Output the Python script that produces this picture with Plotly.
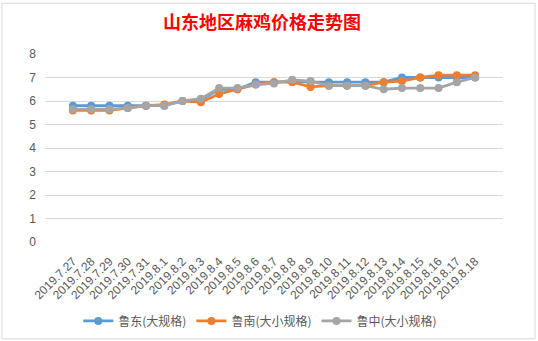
import plotly.graph_objects as go

dates = ["2019.7.27", "2019.7.28", "2019.7.29", "2019.7.30", "2019.7.31",
         "2019.8.1", "2019.8.2", "2019.8.3", "2019.8.4", "2019.8.5", "2019.8.6",
         "2019.8.7", "2019.8.8", "2019.8.9", "2019.8.10", "2019.8.11", "2019.8.12",
         "2019.8.13", "2019.8.14", "2019.8.15", "2019.8.16", "2019.8.17", "2019.8.18"]

ludong = [5.8, 5.8, 5.8, 5.8, 5.8, 5.8, 6.0, 6.05, 6.5, 6.5, 6.8,
          6.8, 6.85, 6.8, 6.8, 6.8, 6.8, 6.8, 7.0, 7.0, 7.0, 7.0, 7.0]
lunan = [5.6, 5.6, 5.6, 5.7, 5.8, 5.85, 6.0, 5.95, 6.3, 6.5, 6.7,
         6.8, 6.8, 6.6, 6.65, 6.65, 6.65, 6.8, 6.85, 7.0, 7.1, 7.1, 7.1]
luzhong = [5.65, 5.65, 5.65, 5.7, 5.8, 5.8, 6.0, 6.1, 6.55, 6.55, 6.7,
           6.75, 6.9, 6.85, 6.65, 6.65, 6.65, 6.5, 6.55, 6.55, 6.55, 6.8, 7.0]

series = [
    ("鲁东(大规格)", ludong, "#5B9BD5"),
    ("鲁南(大小规格)", lunan, "#ED7D31"),
    ("鲁中(大小规格)", luzhong, "#A5A5A5"),
]

fig = go.Figure()
for name, vals, color in series:
    fig.add_trace(go.Scatter(
        x=dates, y=vals, name=name, mode="lines+markers",
        line=dict(color=color, width=2.8),
        marker=dict(color=color, size=8, symbol="circle"),
    ))

fig.update_layout(
    width=538, height=341,
    margin=dict(l=45, r=35, t=54, b=99, autoexpand=False),
    paper_bgcolor="white", plot_bgcolor="white",
    font=dict(family="Noto Sans CJK SC, Liberation Sans, sans-serif", color="#595959"),
    title=dict(text="<b>山东地区麻鸡价格走势图</b>", x=0.487, xref="container",
               y=1 - 23 / 341, yref="container", xanchor="center", yanchor="middle",
               font=dict(family="Noto Sans CJK SC", size=18, color="#FF0000")),
    showlegend=True,
    legend=dict(orientation="h", x=0.47, xanchor="center", y=-0.42, yanchor="middle",
                font=dict(size=12, color="#595959", family="Noto Sans CJK SC"),
                itemwidth=30, tracegroupgap=0),
    shapes=[dict(type="rect", xref="paper", yref="paper",
                 x0=-0.094, x1=1.07, y0=-0.515, y1=1.27,
                 line=dict(color="#D9D9D9", width=1), layer="below")],
)
fig.update_xaxes(type="category", showgrid=False, showline=False, zeroline=False,
                 tickangle=-45, ticks="", ticklabelstandoff=9,
                 tickfont=dict(family="Liberation Sans", size=12, color="#595959"))
fig.update_yaxes(range=[0, 8], dtick=1, showgrid=True, gridcolor="#D9D9D9", gridwidth=1,
                 zeroline=False, showline=False, ticks="", ticklabelstandoff=8,
                 tickfont=dict(family="Liberation Sans", size=12, color="#595959"))

fig.write_html("out.html")
